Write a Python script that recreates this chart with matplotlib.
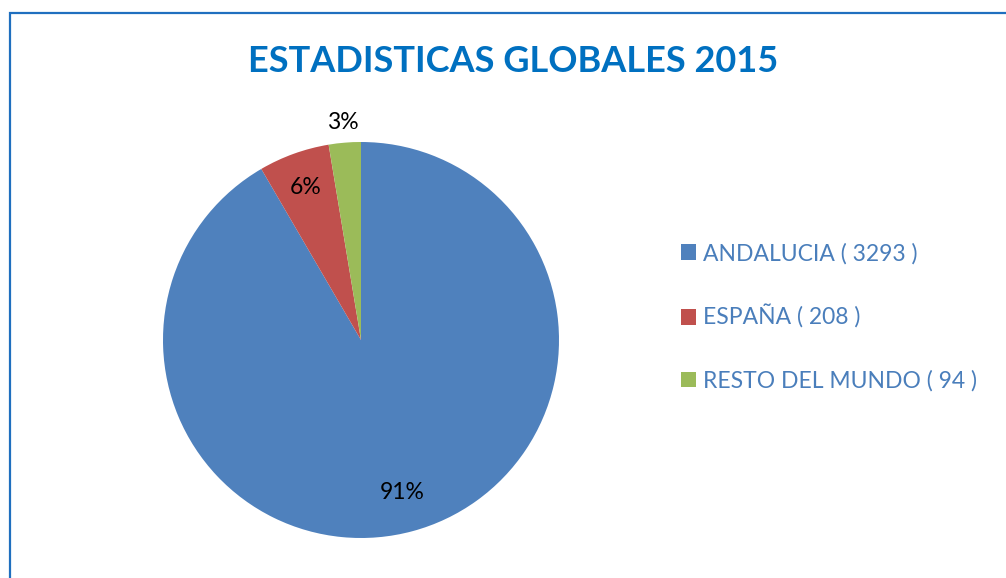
import numpy as np
import matplotlib.pyplot as plt
from matplotlib.patches import Rectangle

regions = ['ANDALUCIA', 'ESPAÑA', 'RESTO DEL MUNDO']
counts = [3293, 208, 94]
pct_labels = ['91%', '6%', '3%']
colors = ['#4F81BD', '#C0504D', '#9BBB59']
labels = ['%s ( %d )' % (r, c) for r, c in zip(regions, counts)]

plt.rcParams['font.family'] = ['Lato', 'DejaVu Sans']

W, H = 1006, 578
fig = plt.figure(figsize=(W / 100, H / 100), dpi=100)

# chart frame (only left and top edges visible in the crop)
fig.patches.append(Rectangle((9.5 / W, -0.1), 1.2, 1.1 - 13.5 / H,
                             transform=fig.transFigure, fill=False,
                             edgecolor='#1F6FBF', linewidth=1.6))

fig.text(513 / W, 1 - 62 / H, 'ESTADISTICAS GLOBALES 2015', ha='center',
         va='center', fontsize=26, fontweight='bold', color='#0070C0')

ax = fig.add_axes([163 / W, 40 / H, 396 / W, 396 / H])
wedges, texts = ax.pie(counts, colors=colors, startangle=90,
                       counterclock=False)
ax.set_xlim(-1, 1)
ax.set_ylim(-1, 1)

# percentage labels; the small slice goes outside, like Excel's best fit
dists = [0.8, 0.82, 1.1]
for w, lab, d in zip(wedges, pct_labels, dists):
    ang = np.deg2rad((w.theta1 + w.theta2) / 2)
    ax.text(d * np.cos(ang), d * np.sin(ang), lab, ha='center', va='center',
            fontsize=16.5, color='black')

leg = fig.legend(wedges, labels, loc='center left',
                 bbox_to_anchor=(670 / W, 1 - 317 / H), frameon=False,
                 fontsize=16.5, labelspacing=1.78, handlelength=0.65,
                 handleheight=0.65, handletextpad=0.3, borderpad=0)
for t in leg.get_texts():
    t.set_color('#4A7EBB')

fig.savefig('out.png', dpi=100)
